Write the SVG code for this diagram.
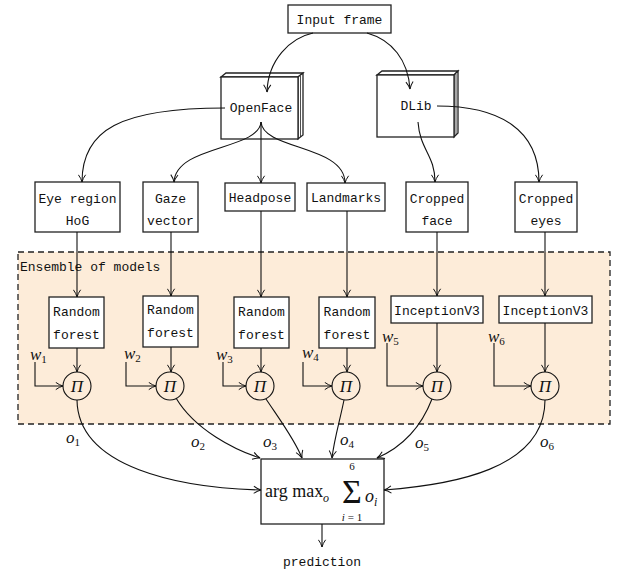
<svg xmlns="http://www.w3.org/2000/svg" width="618" height="573" viewBox="0 0 618 573">
<defs>
<style>
.box{fill:#fff;stroke:#222;stroke-width:1.3}
.tt{font-family:"Liberation Mono","DejaVu Sans Mono",monospace;font-size:13px;fill:#111;text-anchor:middle}
.ln{fill:none;stroke:#111;stroke-width:1.1}
.m{font-family:"Liberation Serif","DejaVu Serif",serif;font-style:italic;font-size:17px;fill:#111}
.s{font-size:11px;font-style:normal}
.circ{fill:none;stroke:#111;stroke-width:1.1}
.sf{font-family:"Liberation Serif","DejaVu Serif",serif;fill:#111}
</style>
<marker id="arr" viewBox="0 0 10 10" refX="9" refY="5" markerWidth="9" markerHeight="9" markerUnits="userSpaceOnUse" orient="auto">
<path d="M1,1 Q5,4 9,5 Q5,6 1,9" fill="none" stroke="#111" stroke-width="1.1"/>
</marker>
</defs>
<rect id="ensemble" x="18" y="252" width="592" height="172" fill="#fdecd9" stroke="#222" stroke-width="1.3" stroke-dasharray="6,4"/>
<text class="tt" x="20" y="271" style="text-anchor:start">Ensemble of models</text>

<g id="input"><rect class="box" x="288" y="5" width="103" height="28"/><text class="tt" x="339.5" y="24">Input frame</text></g>
<g id="openface">
<polygon class="box" points="221,77 226,73 303,73 298,77"/>
<polygon class="box" points="298,77 303,73 303,135 298,139"/>
<line x1="300.5" y1="76" x2="300.5" y2="137" stroke="#222" stroke-width="0.8"/>
<rect class="box" x="221" y="77" width="77" height="62"/>
<text class="tt" x="261" y="112">OpenFace</text></g>
<g id="dlib">
<polygon class="box" points="377,75 382,71 458,71 454,75"/>
<polygon class="box" points="454,75 458,71 458,133 454,137"/>
<line x1="456" y1="74" x2="456" y2="135" stroke="#222" stroke-width="0.8"/>
<rect class="box" x="377" y="75" width="77" height="62"/>
<text class="tt" x="416" y="110">DLib</text></g>

<g id="eye"><rect class="box" x="35" y="182" width="85" height="50"/><text class="tt" x="77.5" y="203">Eye region</text><text class="tt" x="77.5" y="225">HoG</text></g>
<g id="gaze"><rect class="box" x="143" y="182" width="55" height="50"/><text class="tt" x="170.5" y="203">Gaze</text><text class="tt" x="170.5" y="225">vector</text></g>
<g id="headpose"><rect class="box" x="225" y="183" width="70" height="28"/><text class="tt" x="260" y="202">Headpose</text></g>
<g id="landmarks"><rect class="box" x="307" y="183" width="78" height="28"/><text class="tt" x="346" y="202">Landmarks</text></g>
<g id="cface"><rect class="box" x="406" y="182" width="62" height="50"/><text class="tt" x="437" y="203">Cropped</text><text class="tt" x="437" y="225">face</text></g>
<g id="ceyes"><rect class="box" x="515" y="182" width="62" height="50"/><text class="tt" x="546" y="203">Cropped</text><text class="tt" x="546" y="225">eyes</text></g>

<g id="rf1"><rect class="box" x="49" y="297" width="55" height="51"/><text class="tt" x="76.5" y="316">Random</text><text class="tt" x="76.5" y="339">forest</text></g>
<g id="rf2"><rect class="box" x="143" y="296" width="55" height="51"/><text class="tt" x="170.5" y="314">Random</text><text class="tt" x="170.5" y="337">forest</text></g>
<g id="rf3"><rect class="box" x="234" y="297" width="55" height="51"/><text class="tt" x="261.5" y="316">Random</text><text class="tt" x="261.5" y="339">forest</text></g>
<g id="rf4"><rect class="box" x="319" y="297" width="56" height="51"/><text class="tt" x="347" y="316">Random</text><text class="tt" x="347" y="339">forest</text></g>
<g id="inc1"><rect class="box" x="391" y="296" width="92" height="27"/><text class="tt" x="437" y="315">InceptionV3</text></g>
<g id="inc2"><rect class="box" x="499" y="296" width="93" height="27"/><text class="tt" x="545.5" y="315">InceptionV3</text></g>

<g id="p1"><circle class="circ" cx="77" cy="386" r="14"/><text class="m" x="77" y="392" text-anchor="middle">Π</text></g>
<g id="p2"><circle class="circ" cx="170" cy="386" r="14"/><text class="m" x="170" y="392" text-anchor="middle">Π</text></g>
<g id="p3"><circle class="circ" cx="260" cy="386" r="14"/><text class="m" x="260" y="392" text-anchor="middle">Π</text></g>
<g id="p4"><circle class="circ" cx="346" cy="386" r="14"/><text class="m" x="346" y="392" text-anchor="middle">Π</text></g>
<g id="p5"><circle class="circ" cx="437" cy="386" r="14"/><text class="m" x="437" y="392" text-anchor="middle">Π</text></g>
<g id="p6"><circle class="circ" cx="545" cy="386" r="14"/><text class="m" x="545" y="392" text-anchor="middle">Π</text></g>

<g id="argmax"><rect class="box" x="261" y="459" width="123" height="65"/>
<text class="sf" x="265" y="497" font-size="18">arg max</text>
<text class="m" x="323" y="502" style="font-size:12px">o</text>
<text class="sf" x="352" y="503" font-size="34" text-anchor="middle">Σ</text>
<text class="sf" x="352" y="470" font-size="11" text-anchor="middle">6</text>
<text class="sf" x="352" y="521" font-size="11" text-anchor="middle"><tspan font-style="italic">i</tspan> = 1</text>
<text class="m" x="365" y="502" style="font-size:18px">o<tspan dy="4" style="font-style:italic;font-size:12px">i</tspan></text>
</g>
<g id="prediction"><text class="tt" x="322" y="566">prediction</text></g>

<g id="labels">
<text class="m" x="30" y="360">w<tspan class="s" dy="3">1</tspan></text>
<text class="m" x="124" y="359">w<tspan class="s" dy="3">2</tspan></text>
<text class="m" x="216" y="360">w<tspan class="s" dy="3">3</tspan></text>
<text class="m" x="302" y="358">w<tspan class="s" dy="3">4</tspan></text>
<text class="m" x="382" y="342">w<tspan class="s" dy="3">5</tspan></text>
<text class="m" x="488" y="342">w<tspan class="s" dy="3">6</tspan></text>
<text class="m" x="66" y="443">o<tspan class="s" dy="3">1</tspan></text>
<text class="m" x="191" y="447">o<tspan class="s" dy="3">2</tspan></text>
<text class="m" x="263" y="447">o<tspan class="s" dy="3">3</tspan></text>
<text class="m" x="340" y="445">o<tspan class="s" dy="3">4</tspan></text>
<text class="m" x="415" y="448">o<tspan class="s" dy="3">5</tspan></text>
<text class="m" x="540" y="447">o<tspan class="s" dy="3">6</tspan></text>
</g>

<g id="connectors">
<path class="ln" d="M313,33 C290,38 268,60 267,92" marker-end="url(#arr)"/>
<path class="ln" d="M367,33 C392,40 408,60 410,89" marker-end="url(#arr)"/>
<path class="ln" d="M225,108 C120,108 82,130 82,182" marker-end="url(#arr)"/>
<path class="ln" d="M261,122 C259,150 176,145 174,182" marker-end="url(#arr)"/>
<path class="ln" d="M261,122 L261,183" marker-end="url(#arr)"/>
<path class="ln" d="M261,122 C263,150 345,145 345,183" marker-end="url(#arr)"/>
<path class="ln" d="M418,122 C420,150 435,155 435,182" marker-end="url(#arr)"/>
<path class="ln" d="M437,106 C500,106 539,130 539,182" marker-end="url(#arr)"/>
<path class="ln" d="M77,232 L77,297" marker-end="url(#arr)"/>
<path class="ln" d="M171,232 L171,296" marker-end="url(#arr)"/>
<path class="ln" d="M261,211 L261,297" marker-end="url(#arr)"/>
<path class="ln" d="M347,211 L347,297" marker-end="url(#arr)"/>
<path class="ln" d="M437,232 L437,296" marker-end="url(#arr)"/>
<path class="ln" d="M545,232 L545,296" marker-end="url(#arr)"/>
<path class="ln" d="M77,348 L77,372" marker-end="url(#arr)"/>
<path class="ln" d="M171,347 L171,372" marker-end="url(#arr)"/>
<path class="ln" d="M261,348 L261,372" marker-end="url(#arr)"/>
<path class="ln" d="M347,348 L347,372" marker-end="url(#arr)"/>
<path class="ln" d="M437,323 L437,372" marker-end="url(#arr)"/>
<path class="ln" d="M545,323 L545,372" marker-end="url(#arr)"/>
<path class="ln" d="M35,362 L35,386 L63,386" marker-end="url(#arr)"/>
<path class="ln" d="M126,362 L126,386 L156,386" marker-end="url(#arr)"/>
<path class="ln" d="M223,362 L223,386 L246,386" marker-end="url(#arr)"/>
<path class="ln" d="M303,362 L303,386 L332,386" marker-end="url(#arr)"/>
<path class="ln" d="M387,343 L387,386 L423,386" marker-end="url(#arr)"/>
<path class="ln" d="M494,343 L494,386 L531,386" marker-end="url(#arr)"/>
<path class="ln" d="M77,400 C78,468 180,488 261,490" marker-end="url(#arr)"/>
<path class="ln" d="M176,398 C195,430 235,450 260,458" marker-end="url(#arr)"/>
<path class="ln" d="M266,399 C280,420 295,440 302,458" marker-end="url(#arr)"/>
<path class="ln" d="M344,400 C340,420 334,440 332,458" marker-end="url(#arr)"/>
<path class="ln" d="M432,399 C420,430 400,448 377,458" marker-end="url(#arr)"/>
<path class="ln" d="M545,400 C545,470 450,485 384,490" marker-end="url(#arr)"/>
<path class="ln" d="M322,524 L322,547" marker-end="url(#arr)"/>
</g>
</svg>
